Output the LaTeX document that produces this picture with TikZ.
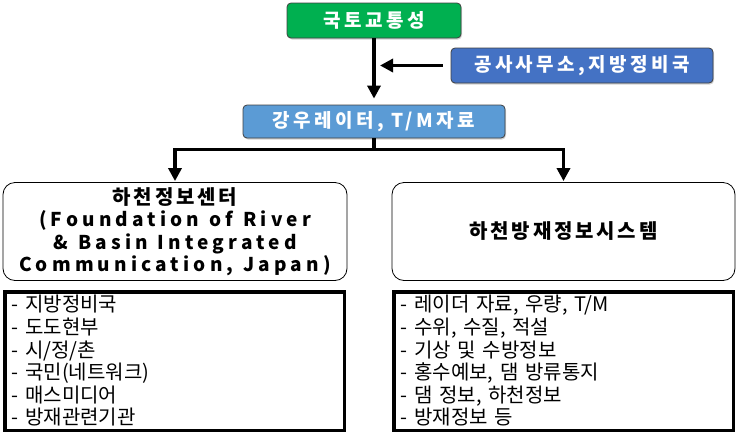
\documentclass[tikz,border=0pt]{standalone}
\usepackage{fontspec}
\setmainfont{Noto Sans CJK KR}
\newfontfamily\krhead[LetterSpace=18]{Noto Sans CJK KR}
\newfontfamily\krtitle[LetterSpace=14]{Noto Sans CJK KR}
\newfontfamily\krwide[LetterSpace=22]{Noto Sans CJK KR}
\newcommand\widewords{\spaceskip=10pt\relax}
\usetikzlibrary{arrows.meta,shadows}
\definecolor{mltgreen}{HTML}{00B050}
\definecolor{officeblue}{HTML}{4472C4}
\definecolor{rainblue}{HTML}{5B9BD5}

\begin{document}
\begin{tikzpicture}[x=1pt,y=-1pt,
	headbox/.style={draw=black!75,line width=0.8pt,rounded corners=4pt,inner sep=0pt,
		text=white,font=\krhead\bfseries\fontsize{19pt}{20pt}\selectfont,
		drop shadow={shadow xshift=1pt,shadow yshift=-1.5pt,opacity=0.35}},
	orgbox/.style={draw,line width=0.8pt,rounded corners=12pt,inner sep=0pt,
		minimum width=344pt,minimum height=98pt,align=center},
	listbox/.style={draw,line width=3.5pt,inner xsep=7pt,inner ysep=0pt,
		minimum width=339.5pt,minimum height=138.5pt,text width=325.5pt,align=left,
		font=\fontsize{20pt}{22.6pt}\selectfont},
	arr/.style={line width=3.5pt,-{Triangle[width=13pt,length=13pt]}}]
	\useasboundingbox (0,0) rectangle (737,440);
	% top part
	\node[headbox,fill=mltgreen,minimum width=174pt,minimum height=35pt] (mlit) at (374,20.5) {국토교통성};
	\node[headbox,fill=officeblue,minimum width=262pt,minimum height=35pt] (office) at (582,65.5) {공사사무소,지방정비국};
	\node[headbox,fill=rainblue,minimum width=262pt,minimum height=33pt] (rain) at (374,121.5) {강우레이터, T/M자료};
	% two centres
	\node[orgbox,font=\krwide\bfseries\fontsize{19pt}{22.5pt}\selectfont\widewords] (fric) at (175,231.5)
		{{\krtitle\bfseries\fontsize{20pt}{22.5pt}\selectfont 하천정보센터}\\(Foundation of River\\\& Basin Integrated\\Communication, Japan)};
	\node[orgbox,minimum width=343pt,font=\krtitle\bfseries\fontsize{20pt}{22.5pt}\selectfont] (flood) at (563.5,231.5) {하천방재정보시스템};
	% lists
	\node[listbox] (ficlist) at (174.5,361) {- 지방정비국\\- 도도현부\\- 시/정/촌\\- 국민(네트워크)\\- 매스미디어\\- 방재관련기관};
	\node[listbox] (floodlist) at (563.5,361) {- 레이더 자료, 우량, T/M\\- 수위, 수질, 적설\\- 기상 및 수방정보\\- 홍수예보, 댐 방류통지\\- 댐 정보, 하천정보\\- 방재정보 등};
	% connectors
	\coordinate (split) at ([yshift=-11pt]rain.south);
	\draw[arr,shorten >=6pt] (mlit.south) -- (rain.north);
	\draw[arr,shorten <=8pt,shorten >=6pt] (office.west) -- (office.west -| mlit.south);
	\draw[line width=3.5pt] (rain.south) -- (split);
	\draw[arr,shorten >=1pt] (split) -| (fric.north);
	\draw[arr,shorten >=1pt] (split) -| (flood.north);
\end{tikzpicture}
\end{document}
